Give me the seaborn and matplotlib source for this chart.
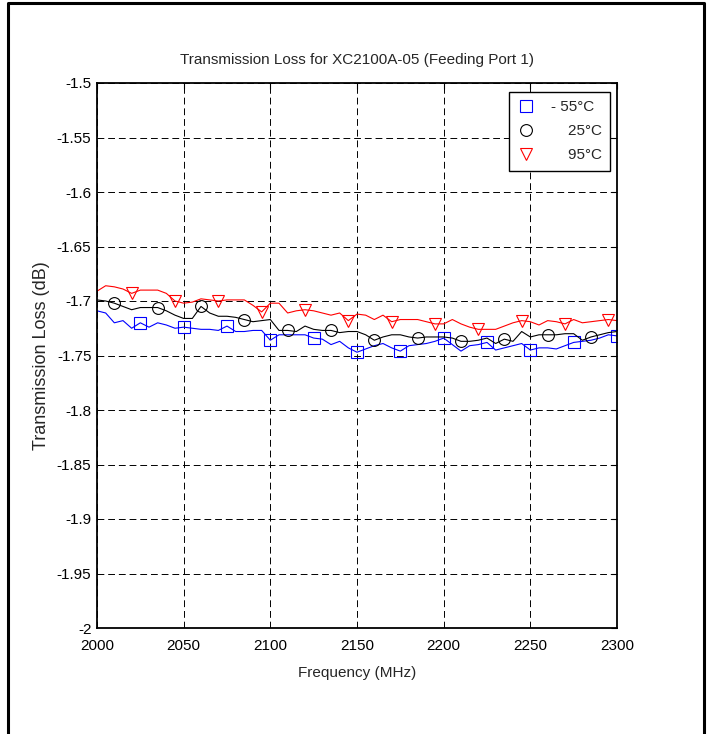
import numpy as np
import pandas as pd
import matplotlib
matplotlib.use("Agg")
import matplotlib.pyplot as plt
from matplotlib.lines import Line2D
import seaborn as sns

freq = list(range(2000, 2301, 5))

loss_m55 = [-1.709, -1.711, -1.720, -1.718, -1.725, -1.720, -1.724, -1.720, -1.722, -1.725,
            -1.724, -1.725, -1.726, -1.726, -1.727, -1.723, -1.728, -1.728, -1.727, -1.727,
            -1.736, -1.731, -1.731, -1.731, -1.731, -1.734, -1.735, -1.740, -1.737, -1.743,
            -1.747, -1.744, -1.741, -1.739, -1.743, -1.746, -1.741, -1.740, -1.739, -1.737,
            -1.734, -1.740, -1.746, -1.741, -1.740, -1.738, -1.745, -1.743, -1.741, -1.739,
            -1.745, -1.743, -1.743, -1.744, -1.741, -1.738, -1.737, -1.736, -1.734, -1.731,
            -1.732]

loss_25 = [-1.699, -1.700, -1.702, -1.705, -1.708, -1.706, -1.706, -1.706, -1.709, -1.713,
           -1.716, -1.716, -1.705, -1.711, -1.714, -1.714, -1.715, -1.717, -1.719, -1.718,
           -1.717, -1.727, -1.727, -1.728, -1.723, -1.726, -1.727, -1.727, -1.729, -1.728,
           -1.728, -1.731, -1.736, -1.733, -1.731, -1.731, -1.733, -1.734, -1.733, -1.733,
           -1.733, -1.734, -1.737, -1.737, -1.736, -1.734, -1.739, -1.735, -1.737, -1.728,
           -1.733, -1.731, -1.731, -1.731, -1.730, -1.730, -1.736, -1.733, -1.731, -1.729,
           -1.728]

loss_95 = [-1.691, -1.686, -1.687, -1.689, -1.693, -1.690, -1.690, -1.690, -1.693, -1.700,
           -1.702, -1.701, -1.698, -1.699, -1.700, -1.699, -1.699, -1.699, -1.704, -1.710,
           -1.702, -1.702, -1.711, -1.709, -1.708, -1.709, -1.711, -1.713, -1.711, -1.718,
           -1.712, -1.713, -1.717, -1.713, -1.719, -1.717, -1.717, -1.717, -1.719, -1.721,
           -1.721, -1.717, -1.721, -1.724, -1.726, -1.726, -1.726, -1.723, -1.720, -1.718,
           -1.719, -1.722, -1.718, -1.719, -1.721, -1.717, -1.720, -1.719, -1.718, -1.717,
           -1.718]

labels = ["- 55°C", "    25°C", "    95°C"]
series = [loss_m55, loss_25, loss_95]
colors = ["#0000ff", "#000000", "#ff0000"]
markers = ["s", "o", "v"]
mark_start = [5, 2, 4]

xticks = list(range(2000, 2301, 50))
yticks = [-2.0, -1.95, -1.9, -1.85, -1.8, -1.75, -1.7, -1.65, -1.6, -1.55, -1.5]
ytick_labels = ["-2", "-1.95", "-1.9", "-1.85", "-1.8", "-1.75", "-1.7", "-1.65", "-1.6", "-1.55", "-1.5"]
xtick_labels = [str(v) for v in xticks]

sns.set_style("white")
plt.rcParams["font.family"] = ["Liberation Sans", "DejaVu Sans"]

fig = plt.figure(figsize=(7.1, 7.34), dpi=100)
ax = fig.add_axes([97 / 710, 1 - 628 / 734, 520 / 710, 545 / 734])

for vals, col, mk, st in zip(series, colors, markers, mark_start):
    df = pd.DataFrame({"f": freq, "v": vals})
    sns.lineplot(data=df, x="f", y="v", ax=ax, color=col, linewidth=0.8,
                 marker=mk, markevery=(st, 5), markersize=8.5,
                 markerfacecolor="none", markeredgecolor=col, markeredgewidth=0.8,
                 errorbar=None, estimator=None, sort=False)

ax.set_xlim(2000, 2300)
ax.set_ylim(-2.0, -1.5)
ax.set_xticks(xticks)
ax.set_xticklabels(xtick_labels)
ax.set_yticks(yticks)
ax.set_yticklabels(ytick_labels)
ax.grid(True, color="black", linestyle=(0, (7, 4)), linewidth=0.7)
ax.tick_params(direction="in", length=4, width=0.8, top=True, right=True,
               labelsize=11, colors="black")
ax.tick_params(axis="x", pad=8)
ax.tick_params(axis="y", pad=4)
for sp in ax.spines.values():
    sp.set_visible(True)
    sp.set_color("black")
    sp.set_linewidth(1.3)

ax.set_title("Transmission Loss for XC2100A-05 (Feeding Port 1)", fontsize=11, pad=14)
ax.set_xlabel("Frequency (MHz)", fontsize=11, labelpad=9)
ax.set_ylabel("Transmission Loss (dB)", fontsize=13, labelpad=5)

handles = [Line2D([], [], linestyle="none", marker=m, markersize=8.5, markerfacecolor="none",
                  markeredgecolor=c, markeredgewidth=0.8) for m, c in zip(markers, colors)]
leg = ax.legend(handles, labels, loc="upper right",
                bbox_to_anchor=((610 - 97) / 520, (628 - 92) / 545), borderaxespad=0,
                fontsize=11, frameon=True, fancybox=False, framealpha=1, edgecolor="black",
                borderpad=0.55, handlelength=1.2, handletextpad=1.0, labelspacing=0.65)
leg.get_frame().set_linewidth(1.0)

# outer frame lines
fig.add_artist(Line2D([8 / 710, 8 / 710, 704 / 710, 704 / 710],
                      [0, 1 - 3 / 734, 1 - 3 / 734, 0],
                      transform=fig.transFigure, color="black", linewidth=2.2))

fig.savefig("out.png", dpi=100)
